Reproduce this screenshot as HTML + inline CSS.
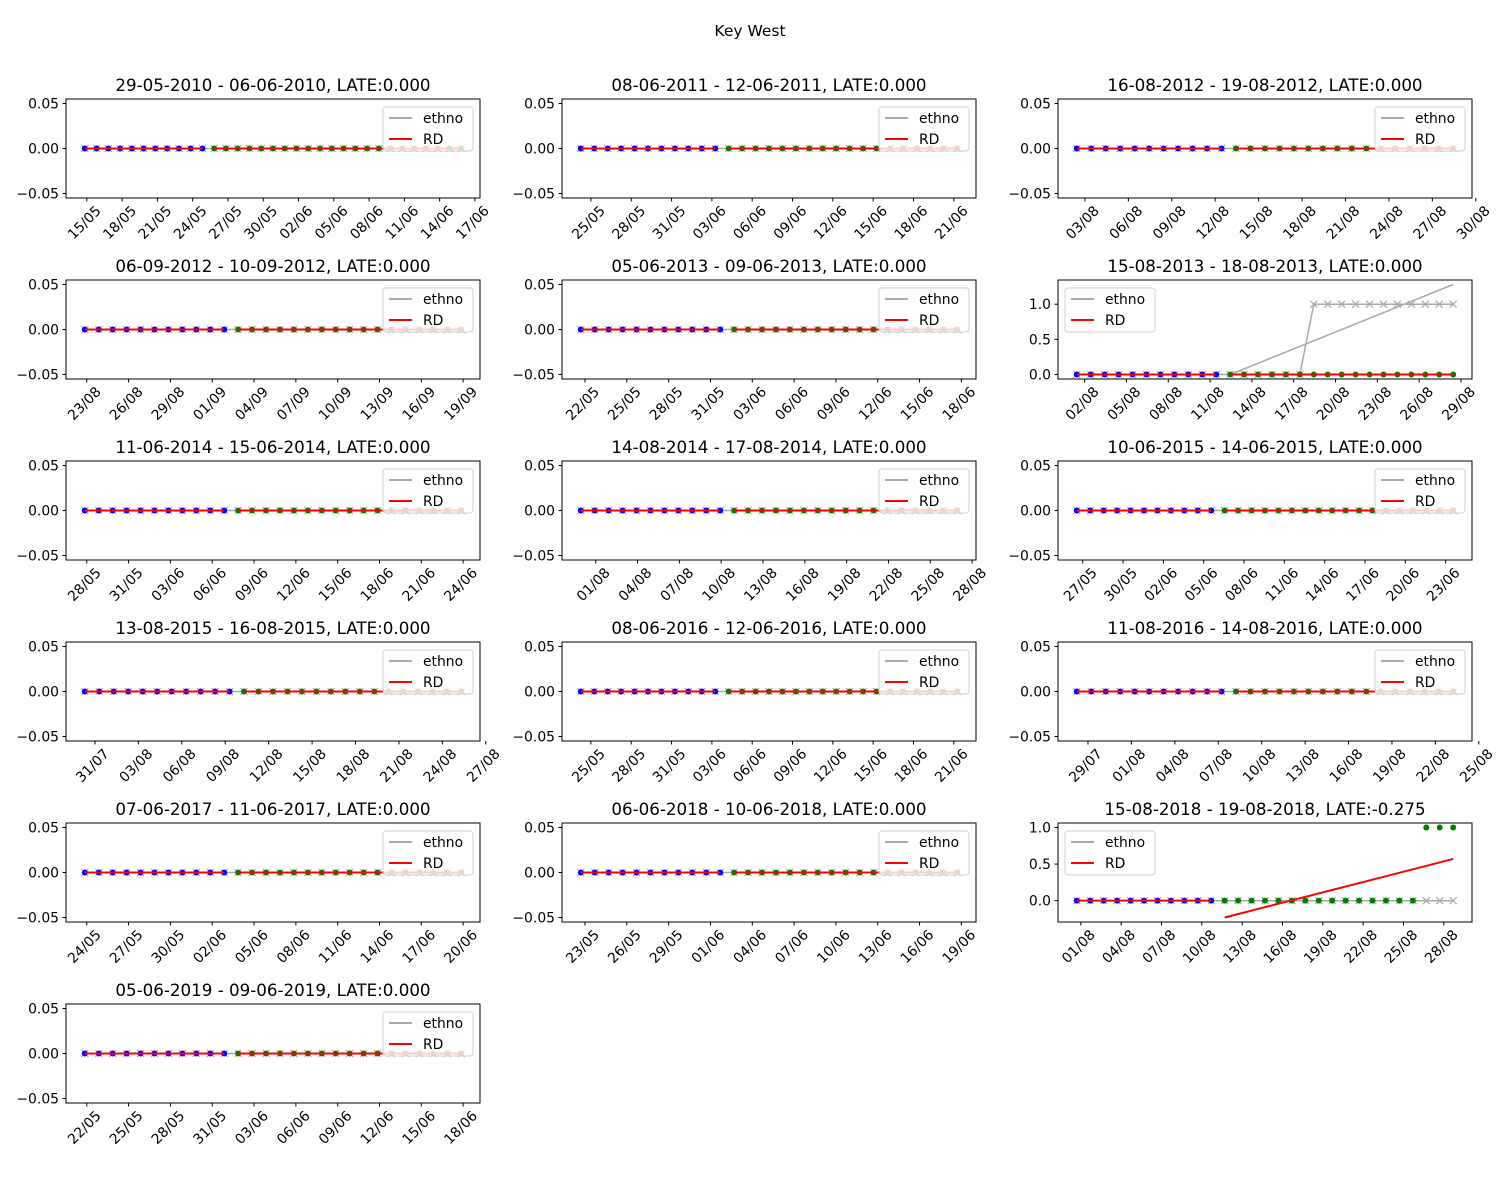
<!DOCTYPE html>
<html><head><meta charset="utf-8"><style>
body{margin:0;background:#fff;}
svg{display:block;font-family:"DejaVu Sans","Liberation Sans",sans-serif;}
</style></head><body>
<svg id="fig" width="1500" height="1200" xmlns="http://www.w3.org/2000/svg">
<rect width="1500" height="1200" fill="#fff"/>
<text x="750" y="36" text-anchor="middle" font-size="15.5">Key West</text>
</svg>
<script>
const titles = ["29-05-2010 - 06-06-2010, LATE:0.000","08-06-2011 - 12-06-2011, LATE:0.000","16-08-2012 - 19-08-2012, LATE:0.000",
"06-09-2012 - 10-09-2012, LATE:0.000","05-06-2013 - 09-06-2013, LATE:0.000","15-08-2013 - 18-08-2013, LATE:0.000",
"11-06-2014 - 15-06-2014, LATE:0.000","14-08-2014 - 17-08-2014, LATE:0.000","10-06-2015 - 14-06-2015, LATE:0.000",
"13-08-2015 - 16-08-2015, LATE:0.000","08-06-2016 - 12-06-2016, LATE:0.000","11-08-2016 - 14-08-2016, LATE:0.000",
"07-06-2017 - 11-06-2017, LATE:0.000","06-06-2018 - 10-06-2018, LATE:0.000","15-08-2018 - 19-08-2018, LATE:-0.275",
"05-06-2019 - 09-06-2019, LATE:0.000"];
const nPoints = [33,29,27,28,28,28,28,28,29,27,29,27,28,28,29,28];
const nPre = [11,11,11,11,11,11,11,11,11,11,11,11,11,11,11,11];
const dayOffset = [-0.17,-0.75,-0.56,-0.14,-0.3,-0.56,-0.14,-1.07,-0.44,-0.7,-0.75,-0.77,-0.14,-0.3,-0.3,-0.14];
const tickLabels = [
["15/05","18/05","21/05","24/05","27/05","30/05","02/06","05/06","08/06","11/06","14/06","17/06"],
["25/05","28/05","31/05","03/06","06/06","09/06","12/06","15/06","18/06","21/06"],
["03/08","06/08","09/08","12/08","15/08","18/08","21/08","24/08","27/08","30/08"],
["23/08","26/08","29/08","01/09","04/09","07/09","10/09","13/09","16/09","19/09"],
["22/05","25/05","28/05","31/05","03/06","06/06","09/06","12/06","15/06","18/06"],
["02/08","05/08","08/08","11/08","14/08","17/08","20/08","23/08","26/08","29/08"],
["28/05","31/05","03/06","06/06","09/06","12/06","15/06","18/06","21/06","24/06"],
["01/08","04/08","07/08","10/08","13/08","16/08","19/08","22/08","25/08","28/08"],
["27/05","30/05","02/06","05/06","08/06","11/06","14/06","17/06","20/06","23/06"],
["31/07","03/08","06/08","09/08","12/08","15/08","18/08","21/08","24/08","27/08"],
["25/05","28/05","31/05","03/06","06/06","09/06","12/06","15/06","18/06","21/06"],
["29/07","01/08","04/08","07/08","10/08","13/08","16/08","19/08","22/08","25/08"],
["24/05","27/05","30/05","02/06","05/06","08/06","11/06","14/06","17/06","20/06"],
["23/05","26/05","29/05","01/06","04/06","07/06","10/06","13/06","16/06","19/06"],
["01/08","04/08","07/08","10/08","13/08","16/08","19/08","22/08","25/08","28/08"],
["22/05","25/05","28/05","31/05","03/06","06/06","09/06","12/06","15/06","18/06"]];
// special series
const ethnoP6 = [0,0,0,0,0,0,0,0,0,0,0,0,0,0,0,0,0,1,1,1,1,1,1,1,1,1,1,1];
const ethnoFitP6 = [0, 1.28];
const outcomeP15 = [0,0,0,0,0,0,0,0,0,0,0,0,0,0,0,0,0,0,0,0,0,0,0,0,0,0,1,1,1];
const rdPostP15 = [-0.23, 0.57];
const legendLeft = [5,14];

const NS="http://www.w3.org/2000/svg";
const fig=document.getElementById('fig');
function mk(tag,attrs,parent){const e=document.createElementNS(NS,tag);for(const k in attrs)e.setAttribute(k,attrs[k]);(parent||fig).appendChild(e);return e;}
const colX=[66,562,1058], rowY=[99,280,461,642,823,1004], W=414, H=99;

for(let p=0;p<16;p++){
  const L=colX[p%3], T=rowY[Math.floor(p/3)], B=T+H, R=L+W;
  const N=nPoints[p], np=nPre[p], t0=dayOffset[p];
  const xs=[]; for(let i=0;i<N;i++) xs.push(t0+i);
  let eth=new Array(N).fill(0), out=new Array(N).fill(0);
  let rdPost=[0,0], ethFit=null, yTicks=[-0.05,0,0.05], yLab=["\u22120.05","0.00","0.05"];
  if(p===5){eth=ethnoP6; ethFit=ethnoFitP6;}
  if(p===14){out=outcomeP15; rdPost=rdPostP15;}
  const vals=eth.concat(out,rdPost,ethFit||[]);
  let ymin=Math.min(...vals), ymax=Math.max(...vals);
  if(ymin===ymax){ymin=-0.055;ymax=0.055;} else {const m=(ymax-ymin)*0.05;ymin-=m;ymax+=m;yTicks=[0,0.5,1];yLab=["0.0","0.5","1.0"];}
  const xmin0=xs[0], xmax0=xs[N-1], xm=(xmax0-xmin0)*0.05;
  const xmin=xmin0-xm, xmax=xmax0+xm;
  const X=v=>L+(v-xmin)/(xmax-xmin)*W, Y=v=>B-(v-ymin)/(ymax-ymin)*H;
  const g=mk('g',{});
  
  
  const t=mk('text',{x:(L+R)/2,y:T-8,'text-anchor':'middle','font-size':'16.7'},g);t.textContent=titles[p];
  
  
  const clipId='c'+p;
  const cp=mk('clipPath',{id:clipId},g); mk('rect',{x:L,y:T,width:W,height:H},cp);
  const pl=mk('g',{'clip-path':'url(#'+clipId+')'},g);
  let d=''; xs.forEach((x,i)=>{d+=(i?'L':'M')+X(x).toFixed(1)+','+Y(eth[i]).toFixed(1);});
  const el=mk('path',{d:d,stroke:'#a9a9a9','stroke-width':1.5,fill:'none'},pl);
  
  
  xs.forEach((x,i)=>{const cx=X(x),cy=Y(eth[i]);mk('path',{d:`M${cx-3.5},${cy-3.5}L${cx+3.5},${cy+3.5}M${cx-3.5},${cy+3.5}L${cx+3.5},${cy-3.5}`,stroke:'#a9a9a9','stroke-width':1.2},pl);});
  if(ethFit){const ef=mk('line',{x1:X(xs[np]),y1:Y(ethFit[0]),x2:X(xs[N-1]),y2:Y(ethFit[1]),stroke:'#a9a9a9','stroke-width':1.5},pl);
    
    }
  xs.forEach((x,i)=>{const c=mk('circle',{cx:X(x),cy:Y(out[i]),r:3,fill:i<np?'#0000ff':'#008000'},pl);
    
    });
  const r1=mk('line',{x1:X(xs[0]),y1:Y(0),x2:X(xs[np-1]),y2:Y(0),stroke:'#ff0000','stroke-width':2},pl);
  
  
  const r2=mk('line',{x1:X(xs[np]),y1:Y(rdPost[0]),x2:X(xs[N-1]),y2:Y(rdPost[1]),stroke:'#ff0000','stroke-width':2},pl);
  
  
  mk('rect',{x:L,y:T,width:W,height:H,fill:'none',stroke:'#000','stroke-width':1},g);
  yTicks.forEach((v,i)=>{const y=Y(v);mk('line',{x1:L-3.5,y1:y,x2:L,y2:y,stroke:'#000'},g);
    const tl=mk('text',{x:L-7,y:y+5,'text-anchor':'end','font-size':'13.9'},g);tl.textContent=yLab[i];
    
    });
  tickLabels[p].forEach((lab,i)=>{const x=X(i*3);mk('line',{x1:x,y1:B,x2:x,y2:B+3.5,stroke:'#000'},g);
    const tl=mk('text',{x:x-2,y:B+25,'text-anchor':'middle','dominant-baseline':'central','font-size':'13.9',transform:`rotate(-45 ${x-2} ${B+25})`},g);tl.textContent=lab;
    
    });
  const lx=legendLeft.includes(p)?L+7:R-97, ly=T+8;
  const lg=mk('g',{},g);
  
  
  mk('rect',{x:lx,y:ly,width:90,height:44,rx:3,fill:'#fff','fill-opacity':0.8,stroke:'#d0d0d0'},lg);
  mk('line',{x1:lx+6,y1:ly+11,x2:lx+29,y2:ly+11,stroke:'#a9a9a9','stroke-width':2},lg);
  const t1=mk('text',{x:lx+40,y:ly+16,'font-size':'13.9'},lg);t1.textContent='ethno';
  mk('line',{x1:lx+6,y1:ly+32,x2:lx+29,y2:ly+32,stroke:'#ff0000','stroke-width':2},lg);
  const t2=mk('text',{x:lx+40,y:ly+37,'font-size':'13.9'},lg);t2.textContent='RD';
}
</script>
</body></html>
